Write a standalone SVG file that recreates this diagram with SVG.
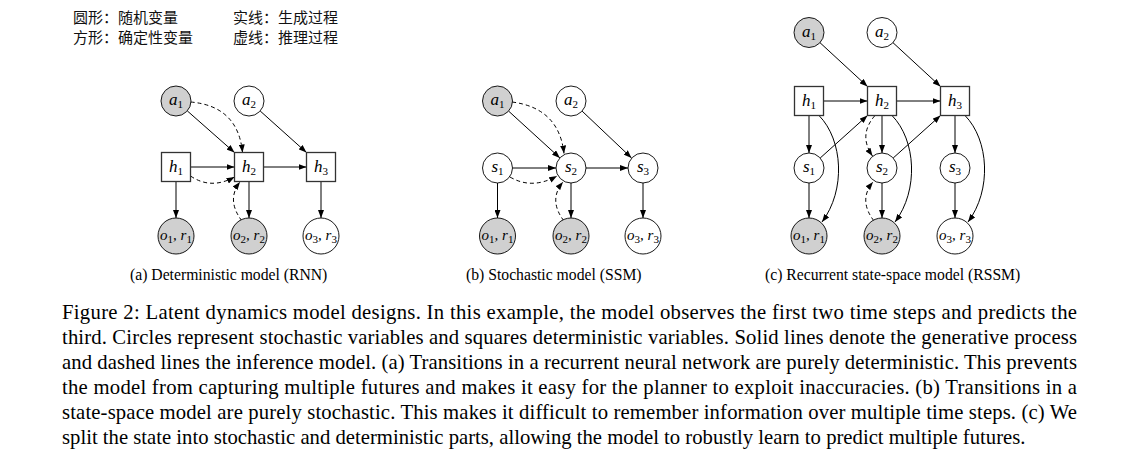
<svg xmlns="http://www.w3.org/2000/svg" width="1141" height="460" viewBox="0 0 1141 460">
<defs>
<marker id="ah" viewBox="0 0 8 6" refX="8" refY="3" markerWidth="8" markerHeight="6" markerUnits="userSpaceOnUse" orient="auto">
<path d="M0,0 L8,3 L0,6 z" fill="#000"/>
</marker>
</defs>
<style>
.cj{font-family:"Noto Sans CJK SC","Noto Sans",sans-serif;font-size:15px;fill:#111}
.rv{fill:#fff;stroke:#000;stroke-width:0.9}
.ob{fill:#d0d0d0;stroke:#000;stroke-width:0.9}
.bx{fill:#fff;stroke:#333;stroke-width:1.3}
.m{font-family:"Liberation Serif",serif;font-style:italic;font-size:17px;fill:#000;text-anchor:middle}
.mo{font-family:"Liberation Serif",serif;font-style:italic;font-size:15px;fill:#000;text-anchor:middle}
.sb{font-size:11px;font-style:normal}
.e{fill:none;stroke:#000;stroke-width:1;marker-end:url(#ah)}
.d{fill:none;stroke:#000;stroke-width:1;stroke-dasharray:4,3;marker-end:url(#ah)}
.cap{font-family:"Liberation Serif",serif;font-size:15.7px;fill:#000}
.par{font-family:"Liberation Serif",serif;font-size:20.7px;fill:#000}
</style>
<rect width="1141" height="460" fill="#fff"/>
<g id="legend">
<text class="cj" x="73" y="23">圆形：随机变量</text>
<text class="cj" x="73" y="43">方形：确定性变量</text>
<text class="cj" x="233" y="23">实线：生成过程</text>
<text class="cj" x="233" y="43">虚线：推理过程</text>
</g>
<g id="connectors">
<!-- panel a -->
<path class="e" d="M187.3,110.9 L234.5,152.5"/>
<path class="e" d="M260.2,111 L306.5,152.5"/>
<path class="e" d="M190.5,167 L234.5,167"/>
<path class="e" d="M263.5,167 L306.5,167"/>
<path class="e" d="M176,181.5 L176,218"/>
<path class="e" d="M249,181.5 L249,218"/>
<path class="e" d="M321,181.5 L321,218"/>
<path class="d" d="M190.5,102 Q238,106 242.5,152.5"/>
<path class="d" d="M190.5,176 Q211,190 234.5,177"/>
<path class="d" d="M242,221 Q226,200 240,182"/>
<!-- panel b -->
<path class="e" d="M508.6,111.1 L559.9,157.9"/>
<path class="e" d="M582.1,111.1 L631.5,157.9"/>
<path class="e" d="M512.5,168 L556,168"/>
<path class="e" d="M586,168 L628,168"/>
<path class="e" d="M497.5,183 L497.5,218"/>
<path class="e" d="M571,183 L571,218"/>
<path class="e" d="M643,183 L643,218"/>
<path class="d" d="M512,102 Q559,108 564,153.5"/>
<path class="d" d="M510,177 Q532,190 557,176"/>
<path class="d" d="M564,221 Q548,200 563,182"/>
<!-- panel c -->
<path class="e" d="M820,42.7 L867.5,86.5"/>
<path class="e" d="M893,42.7 L940.5,86.5"/>
<path class="e" d="M823.5,101 L867.5,101"/>
<path class="e" d="M896.5,101 L940.5,101"/>
<path class="e" d="M809,115.5 L809,153"/>
<path class="e" d="M882,115.5 L882,153"/>
<path class="e" d="M955,115.5 L955,153"/>
<path class="e" d="M809,183 L809,218"/>
<path class="e" d="M882,183 L882,218"/>
<path class="e" d="M955,183 L955,218"/>
<path class="e" d="M820.2,158 L867.5,115.5"/>
<path class="e" d="M893.2,158 L940.5,115.5"/>
<path class="e" d="M819,115.5 C843,140 846,190 822,222"/>
<path class="e" d="M892,115.5 C916,140 919,190 895,222"/>
<path class="e" d="M965,115.5 C989,140 992,190 968,222"/>
<path class="d" d="M875,115.5 Q858,135 872.5,156"/>
<path class="d" d="M874,221 Q858,200 873,182"/>
</g>
<!-- panel a nodes -->
<g id="a_a1"><circle class="ob" cx="176" cy="101" r="15"/><text class="m" x="176" y="105">a<tspan class="sb" dy="3">1</tspan></text></g>
<g id="a_a2"><circle class="rv" cx="249" cy="101" r="15"/><text class="m" x="249" y="105">a<tspan class="sb" dy="3">2</tspan></text></g>
<g id="a_h1"><rect class="bx" x="161.5" y="152.5" width="29" height="29"/><text class="m" x="176" y="172">h<tspan class="sb" dy="3">1</tspan></text></g>
<g id="a_h2"><rect class="bx" x="234.5" y="152.5" width="29" height="29"/><text class="m" x="249" y="172">h<tspan class="sb" dy="3">2</tspan></text></g>
<g id="a_h3"><rect class="bx" x="306.5" y="152.5" width="29" height="29"/><text class="m" x="321" y="172">h<tspan class="sb" dy="3">3</tspan></text></g>
<g id="a_o1"><circle class="ob" cx="176" cy="236" r="18"/><text class="mo" x="176" y="240">o<tspan class="sb" dy="3">1</tspan><tspan dy="-3">, r</tspan><tspan class="sb" dy="3">1</tspan></text></g>
<g id="a_o2"><circle class="ob" cx="249" cy="236" r="18"/><text class="mo" x="249" y="240">o<tspan class="sb" dy="3">2</tspan><tspan dy="-3">, r</tspan><tspan class="sb" dy="3">2</tspan></text></g>
<g id="a_o3"><circle class="rv" cx="321" cy="236" r="18"/><text class="mo" x="321" y="240">o<tspan class="sb" dy="3">3</tspan><tspan dy="-3">, r</tspan><tspan class="sb" dy="3">3</tspan></text></g>
<!-- panel b nodes -->
<g id="b_a1"><circle class="ob" cx="497.5" cy="101" r="15"/><text class="m" x="497.5" y="105">a<tspan class="sb" dy="3">1</tspan></text></g>
<g id="b_a2"><circle class="rv" cx="571" cy="101" r="15"/><text class="m" x="571" y="105">a<tspan class="sb" dy="3">2</tspan></text></g>
<g id="b_s1"><circle class="rv" cx="497.5" cy="168" r="15"/><text class="m" x="497.5" y="172">s<tspan class="sb" dy="3">1</tspan></text></g>
<g id="b_s2"><circle class="rv" cx="571" cy="168" r="15"/><text class="m" x="571" y="172">s<tspan class="sb" dy="3">2</tspan></text></g>
<g id="b_s3"><circle class="rv" cx="643" cy="168" r="15"/><text class="m" x="643" y="172">s<tspan class="sb" dy="3">3</tspan></text></g>
<g id="b_o1"><circle class="ob" cx="497.5" cy="236" r="18"/><text class="mo" x="497.5" y="240">o<tspan class="sb" dy="3">1</tspan><tspan dy="-3">, r</tspan><tspan class="sb" dy="3">1</tspan></text></g>
<g id="b_o2"><circle class="ob" cx="571" cy="236" r="18"/><text class="mo" x="571" y="240">o<tspan class="sb" dy="3">2</tspan><tspan dy="-3">, r</tspan><tspan class="sb" dy="3">2</tspan></text></g>
<g id="b_o3"><circle class="rv" cx="643" cy="236" r="18"/><text class="mo" x="643" y="240">o<tspan class="sb" dy="3">3</tspan><tspan dy="-3">, r</tspan><tspan class="sb" dy="3">3</tspan></text></g>
<!-- panel c nodes -->
<g id="c_a1"><circle class="ob" cx="809" cy="32.5" r="15"/><text class="m" x="809" y="36.5">a<tspan class="sb" dy="3">1</tspan></text></g>
<g id="c_a2"><circle class="rv" cx="882" cy="32.5" r="15"/><text class="m" x="882" y="36.5">a<tspan class="sb" dy="3">2</tspan></text></g>
<g id="c_h1"><rect class="bx" x="794.5" y="86.5" width="29" height="29"/><text class="m" x="809" y="106">h<tspan class="sb" dy="3">1</tspan></text></g>
<g id="c_h2"><rect class="bx" x="867.5" y="86.5" width="29" height="29"/><text class="m" x="882" y="106">h<tspan class="sb" dy="3">2</tspan></text></g>
<g id="c_h3"><rect class="bx" x="940.5" y="86.5" width="29" height="29"/><text class="m" x="955" y="106">h<tspan class="sb" dy="3">3</tspan></text></g>
<g id="c_s1"><circle class="rv" cx="809" cy="168" r="15"/><text class="m" x="809" y="172">s<tspan class="sb" dy="3">1</tspan></text></g>
<g id="c_s2"><circle class="rv" cx="882" cy="168" r="15"/><text class="m" x="882" y="172">s<tspan class="sb" dy="3">2</tspan></text></g>
<g id="c_s3"><circle class="rv" cx="955" cy="168" r="15"/><text class="m" x="955" y="172">s<tspan class="sb" dy="3">3</tspan></text></g>
<g id="c_o1"><circle class="ob" cx="809" cy="236" r="18"/><text class="mo" x="809" y="240">o<tspan class="sb" dy="3">1</tspan><tspan dy="-3">, r</tspan><tspan class="sb" dy="3">1</tspan></text></g>
<g id="c_o2"><circle class="ob" cx="882" cy="236" r="18"/><text class="mo" x="882" y="240">o<tspan class="sb" dy="3">2</tspan><tspan dy="-3">, r</tspan><tspan class="sb" dy="3">2</tspan></text></g>
<g id="c_o3"><circle class="rv" cx="955" cy="236" r="18"/><text class="mo" x="955" y="240">o<tspan class="sb" dy="3">3</tspan><tspan dy="-3">, r</tspan><tspan class="sb" dy="3">3</tspan></text></g>
<g id="captions">
<text class="cap" x="130" y="280">(a) Deterministic model (RNN)</text>
<text class="cap" x="466" y="280">(b) Stochastic model (SSM)</text>
<text class="cap" x="765" y="280">(c) Recurrent state-space model (RSSM)</text>
</g>
<g id="paragraph">
<text class="par" x="62" y="319" textLength="1015" lengthAdjust="spacing">Figure 2: Latent dynamics model designs. In this example, the model observes the first two time steps and predicts the</text>
<text class="par" x="62" y="344" textLength="1015" lengthAdjust="spacing">third. Circles represent stochastic variables and squares deterministic variables. Solid lines denote the generative process</text>
<text class="par" x="62" y="369" textLength="1015" lengthAdjust="spacing">and dashed lines the inference model. (a) Transitions in a recurrent neural network are purely deterministic. This prevents</text>
<text class="par" x="62" y="394" textLength="1015" lengthAdjust="spacing">the model from capturing multiple futures and makes it easy for the planner to exploit inaccuracies. (b) Transitions in a</text>
<text class="par" x="62" y="419" textLength="1015" lengthAdjust="spacing">state-space model are purely stochastic. This makes it difficult to remember information over multiple time steps. (c) We</text>
<text class="par" x="62" y="444">split the state into stochastic and deterministic parts, allowing the model to robustly learn to predict multiple futures.</text>
</g>
</svg>
